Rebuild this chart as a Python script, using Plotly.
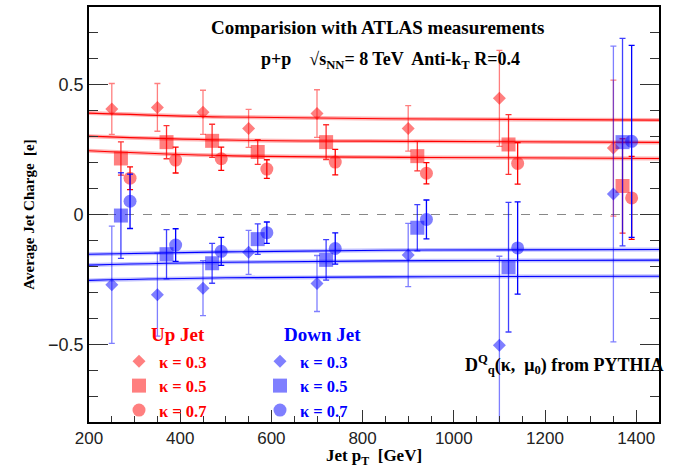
import plotly.graph_objects as go

# ---------------- data ----------------
x_k03 = [250, 350, 450, 550, 700, 900, 1100, 1350]
x_k05 = [270, 370, 470, 570, 720, 920, 1120, 1370]
x_k07 = [290, 390, 490, 590, 740, 940, 1140, 1390]

up_k03 = [0.407, 0.413, 0.394, 0.332, 0.389, 0.332, 0.448, 0.256]
up_k03_err = [0.098, 0.092, 0.085, 0.073, 0.092, 0.088, 0.185, 0.262]
up_k05 = [0.216, 0.279, 0.284, 0.241, 0.279, 0.225, 0.270, 0.110]
up_k05_err = [0.064, 0.064, 0.064, 0.048, 0.067, 0.057, 0.115, 0.182]
up_k07 = [0.140, 0.210, 0.215, 0.175, 0.202, 0.159, 0.197, 0.064]
up_k07_err = [0.044, 0.050, 0.045, 0.036, 0.049, 0.041, 0.080, 0.160]

down_k03 = [-0.271, -0.309, -0.284, -0.146, -0.266, -0.156, -0.504, 0.079]
down_k03_err = [0.226, 0.160, 0.106, 0.085, 0.108, 0.122, 0.343, 0.570]
down_k05 = [-0.004, -0.153, -0.188, -0.095, -0.175, -0.051, -0.203, 0.279]
down_k05_err = [0.165, 0.095, 0.077, 0.059, 0.078, 0.089, 0.250, 0.400]
down_k07 = [0.051, -0.118, -0.142, -0.070, -0.131, -0.019, -0.129, 0.282]
down_k07_err = [0.105, 0.063, 0.054, 0.041, 0.060, 0.075, 0.178, 0.370]

# PYTHIA-based calculation curves
curve_x = [200, 500, 950, 1450]
up_curve_k03 = [0.391, 0.376, 0.368, 0.364]
up_curve_k05 = [0.302, 0.287, 0.282, 0.278]
up_curve_k07 = [0.246, 0.227, 0.220, 0.216]
down_curve_k03 = [-0.254, -0.244, -0.240, -0.238]
down_curve_k05 = [-0.195, -0.184, -0.178, -0.176]
down_curve_k07 = [-0.153, -0.144, -0.137, -0.135]

kappa_labels = ["κ = 0.3", "κ = 0.5", "κ = 0.7"]

# ---------------- figure ----------------
SERIF = "Liberation Serif"
SANS = "Liberation Sans"
fig = go.Figure()

# theory bands
for ys, col, band in [
    (up_curve_k03, "red", "rgba(255,0,0,0.30)"),
    (up_curve_k05, "red", "rgba(255,0,0,0.30)"),
    (up_curve_k07, "red", "rgba(255,0,0,0.30)"),
    (down_curve_k03, "blue", "rgba(0,0,255,0.25)"),
    (down_curve_k05, "blue", "rgba(0,0,255,0.25)"),
    (down_curve_k07, "blue", "rgba(0,0,255,0.25)"),
]:
    fig.add_trace(go.Scatter(x=curve_x, y=ys, mode="lines", showlegend=False,
                             line=dict(color=band, width=4, shape="spline"), hoverinfo="skip"))
    fig.add_trace(go.Scatter(x=curve_x, y=ys, mode="lines", showlegend=False,
                             line=dict(color=col, width=1.1, shape="spline"), hoverinfo="skip"))

UP_FILL = "rgba(255,0,0,0.5)"
DN_FILL = "rgba(0,0,255,0.5)"

series = [
    (x_k03, up_k03, up_k03_err, "diamond", 10, UP_FILL, "rgba(255,0,0,0.5)", "legend", kappa_labels[0]),
    (x_k05, up_k05, up_k05_err, "square", 14, UP_FILL, "rgba(255,0,0,0.8)", "legend", kappa_labels[1]),
    (x_k07, up_k07, up_k07_err, "circle", 13, UP_FILL, "rgba(255,0,0,1)", "legend", kappa_labels[2]),
    (x_k03, down_k03, down_k03_err, "diamond", 10, DN_FILL, "rgba(0,0,255,0.5)", "legend2", kappa_labels[0]),
    (x_k05, down_k05, down_k05_err, "square", 14, DN_FILL, "rgba(0,0,255,0.75)", "legend2", kappa_labels[1]),
    (x_k07, down_k07, down_k07_err, "circle", 13, DN_FILL, "rgba(0,0,255,1)", "legend2", kappa_labels[2]),
]
for xs, ys, es, sym, size, fill, ecol, leg, name in series:
    fig.add_trace(go.Scatter(
        x=xs, y=ys, mode="markers", name=name, legend=leg,
        marker=dict(symbol=sym, size=size, color=fill, line=dict(width=0)),
        error_y=dict(type="data", array=es, visible=True, color=ecol, thickness=1.3, width=3),
    ))

# zero reference line
fig.add_shape(type="line", xref="paper", x0=0, x1=1, yref="y", y0=0, y1=0,
              line=dict(color="#888888", width=1.2, dash="dash"), layer="below")

def px_x(px):
    return (px - 89) / 570.0

def px_y(py):
    return (425 - py) / 420.0

annots = [
    dict(text="Comparision with ATLAS measurements", x=px_x(377), y=px_y(26),
         font=dict(family=SERIF, size=19, color="black", weight="bold")),
    dict(text="p+p    √s<sub>NN</sub>= 8 TeV  Anti-k<sub>T</sub> R=0.4",
         x=px_x(390), y=px_y(59),
         font=dict(family=SERIF, size=18, color="black", weight="bold")),
    dict(text="Up Jet", x=px_x(178), y=px_y(336),
         font=dict(family=SERIF, size=19, color="red", weight="bold")),
    dict(text="Down Jet", x=px_x(322), y=px_y(336),
         font=dict(family=SERIF, size=19, color="blue", weight="bold")),
    dict(text="D<sup>Q</sup><sub>q</sub>(κ,  μ<sub>0</sub>) from PYTHIA", x=px_x(463), y=px_y(367),
         xanchor="left", font=dict(family=SERIF, size=18, color="black", weight="bold")),
]
for a in annots:
    a.setdefault("xanchor", "center")
    fig.add_annotation(xref="paper", yref="paper", yanchor="middle", showarrow=False, **a)

axis_common = dict(showgrid=False, zeroline=False, showline=True, linecolor="black", linewidth=1.6,
                   ticks="inside", tickcolor="#333333", tickwidth=1.3)

fig.update_layout(
    width=683, height=468,
    margin=dict(l=89, r=24, t=5, b=43),
    paper_bgcolor="white", plot_bgcolor="white",
    xaxis=dict(range=[200, 1450], tick0=200, dtick=200, ticklen=12, mirror=True,
               tickfont=dict(family=SANS, size=17, color="#222222"),
               minor=dict(dtick=50, ticklen=6, ticks="inside", tickcolor="#333333", tickwidth=1),
               title=dict(text="Jet p<sub>T</sub>  [GeV]", standoff=3,
                          font=dict(family=SERIF, size=17, color="black", weight="bold")),
               **axis_common),
    yaxis=dict(range=[-0.8, 0.8], tick0=0, dtick=0.5, ticklen=19, mirror="ticks",
               tickfont=dict(family=SANS, size=18, color="#222222"),
               minor=dict(dtick=0.1, ticklen=9, ticks="inside", tickcolor="#333333", tickwidth=1),
               title=dict(text="Average Jet Charge  [e]", standoff=10,
                          font=dict(family=SERIF, size=15, color="black", weight="bold")),
               **axis_common),
    legend=dict(x=px_x(119), y=px_y(346), xanchor="left", yanchor="top", bgcolor="rgba(0,0,0,0)",
                font=dict(family=SERIF, size=16.5, color="red", weight="bold"),
                itemsizing="trace", tracegroupgap=0),
    legend2=dict(x=px_x(260), y=px_y(346), xanchor="left", yanchor="top", bgcolor="rgba(0,0,0,0)",
                 font=dict(family=SERIF, size=16.5, color="blue", weight="bold"),
                 itemsizing="trace", tracegroupgap=0),
)

fig.write_html("out.html")
